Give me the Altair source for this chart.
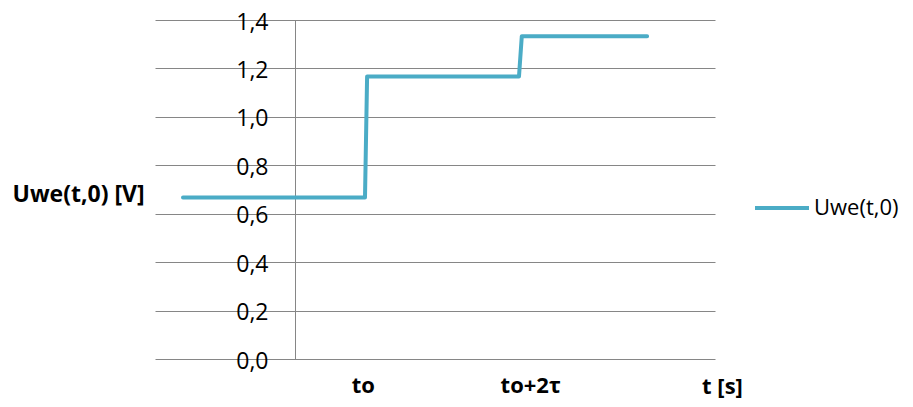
import altair as alt
import pandas as pd

# Data (x in arbitrary time units, y-axis at t = 0)
t_vals = [-1.6, 1.0, 1.03, 3.2, 3.24, 5.03]
u_vals = [0.667, 0.667, 1.167, 1.167, 1.333, 1.333]
series_name = "Uwe(t,0)"
x_tick_pos = [0.97, 3.36]
x_tick_labels = ["to", "to+2τ"]
y_ticks = [0.0, 0.2, 0.4, 0.6, 0.8, 1.0, 1.2, 1.4]
y_title = "Uwe(t,0) [V]"
x_title = "t [s]"

df = pd.DataFrame({
    "t": t_vals,
    "u": u_vals,
    "s": [series_name] * len(t_vals),
    "o": list(range(len(t_vals))),
})

FONT = "Open Sans"
FS = 23
GRID = "#868686"
LINE = "#4BACC6"

x_expr = " : ".join(
    f"datum.value < {(x_tick_pos[i] + x_tick_pos[i + 1]) / 2} ? '{x_tick_labels[i]}'"
    for i in range(len(x_tick_pos) - 1)
) + f" : '{x_tick_labels[-1]}'"

chart = alt.Chart(df).mark_line(
    strokeWidth=4, strokeCap="round", strokeJoin="round"
).encode(
    x=alt.X(
        "t:Q",
        scale=alt.Scale(domain=[-2, 6], nice=False, zero=False),
        axis=alt.Axis(
            values=x_tick_pos, labelExpr=x_expr, grid=False, domain=False, ticks=False,
            labelFont=FONT, labelFontSize=22, labelFontWeight="bold", labelColor="#000000",
            labelPadding=16, title=x_title, titleFont=FONT, titleFontSize=22,
            titleFontWeight="bold", titleColor="#000000", titleX=567, titleY=27,
            titleBaseline="middle", titleAlign="center",
        ),
    ),
    y=alt.Y(
        "u:Q",
        scale=alt.Scale(domain=[0, 1.4], nice=False),
        axis=alt.Axis(
            values=y_ticks, offset=-140, grid=True, gridColor=GRID, gridOpacity=1,
            domain=True, domainColor=GRID, ticks=False,
            labelExpr="replace(format(datum.value, '.1f'), '.', ',')",
            labelFont=FONT, labelFontSize=FS, labelColor="#000000", labelPadding=27,
            labelOffset=2,
            title=y_title, titleFont=FONT, titleFontSize=FS, titleFontWeight="bold",
            titleColor="#000000", titleAngle=0, titleAlign="left", titleBaseline="middle",
            titleX=-283, titleY=174,
        ),
    ),
    color=alt.Color(
        "s:N",
        scale=alt.Scale(range=[LINE]),
        legend=alt.Legend(
            title=None, orient="none", legendX=598, legendY=159,
            symbolType="stroke", symbolSize=2916, symbolStrokeWidth=4,
            labelFont=FONT, labelFontSize=22, labelColor="#000000", labelOffset=3,
        ),
    ),
    order="o:Q",
).properties(
    width=560, height=339,
    autosize=alt.AutoSizeParams(type="none"),
    padding={"left": 147, "top": 12, "right": 189, "bottom": 40},
).configure_view(stroke=None)

chart.save("out.html", embed_options={"renderer": "svg", "actions": False})
